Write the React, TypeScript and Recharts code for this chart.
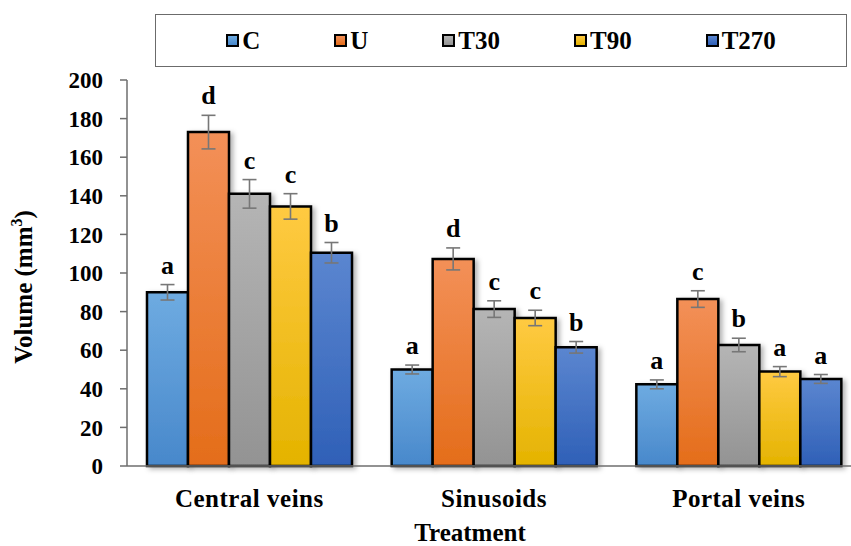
import { BarChart, Bar, XAxis, YAxis, ErrorBar, LabelList } from "recharts";

const categories = ["Central veins", "Sinusoids", "Portal veins"];
const seriesKeys = ["C", "U", "T30", "T90", "T270"];

const cValues = [90, 50, 42.3];
const uValues = [173, 107.3, 86.5];
const t30Values = [141, 81.3, 62.7];
const t90Values = [134.5, 76.7, 48.9];
const t270Values = [110.5, 61.5, 45.1];

const cErrors = [4, 2.3, 2.3];
const uErrors = [8.7, 5.7, 4.3];
const t30Errors = [7.4, 4.3, 3.5];
const t90Errors = [6.6, 4, 2.6];
const t270Errors = [5.3, 3, 2.3];

const cLetters = ["a", "a", "a"];
const uLetters = ["d", "d", "c"];
const t30Letters = ["c", "c", "b"];
const t90Letters = ["c", "c", "a"];
const t270Letters = ["b", "b", "a"];

const yTicks = [0, 20, 40, 60, 80, 100, 120, 140, 160, 180, 200];

const values = [cValues, uValues, t30Values, t90Values, t270Values];
const errors = [cErrors, uErrors, t30Errors, t90Errors, t270Errors];
const letters = [cLetters, uLetters, t30Letters, t90Letters, t270Letters];

const gradients: Record<string, [string, string]> = {
  C: ["#6eabe1", "#4888cb"],
  U: ["#f39058", "#e46d1a"],
  T30: ["#b5b5b5", "#939393"],
  T90: ["#ffca42", "#e4b300"],
  T270: ["#5b86d0", "#2f60b7"],
};

const data = categories.map((name, i) => {
  const row: Record<string, string | number> = { name };
  seriesKeys.forEach((k, s) => {
    row[k] = values[s][i];
    row[k + "_err"] = errors[s][i];
    row[k + "_sig"] = letters[s][i];
  });
  return row;
});

const FONT = "Liberation Serif, Times New Roman, Tinos, Nimbus Roman, DejaVu Serif, serif";
const WIDTH = 870;
const HEIGHT = 546;
const MARGIN = { top: 80, right: 9, bottom: 0, left: 27 };
const X_AXIS_H = 80;
const PLOT_H = HEIGHT - MARGIN.top - MARGIN.bottom - X_AXIS_H;
const Y_MAX = 200;

function sigLabel(seriesIdx: number) {
  return (props: any) => {
    const { x, y, width, index } = props;
    const err = errors[seriesIdx][index] ?? 0;
    const top = Number(y) - (err * PLOT_H) / Y_MAX;
    return (
      <text
        x={Number(x) + Number(width) / 2}
        y={top - 11}
        textAnchor="middle"
        fontFamily={FONT}
        fontWeight="bold"
        fontSize={26}
        fill="#000"
      >
        {letters[seriesIdx][index]}
      </text>
    );
  };
}

function CategoryTick(props: any) {
  const { x, y, payload } = props;
  return (
    <text x={x} y={y} dy={41} textAnchor="middle" fontFamily={FONT} fontWeight="bold" fontSize={25} letterSpacing={0.5} fill="#000">
      {payload.value}
    </text>
  );
}

function Legendbox() {
  return (
    <div
      style={{
        position: "absolute",
        left: 155,
        top: 14,
        width: 690,
        height: 51,
        border: "1.5px solid #6b6b6b",
        display: "flex",
        alignItems: "center",
        justifyContent: "center",
        columnGap: 74,
        fontFamily: FONT,
        fontWeight: "bold",
        fontSize: 25,
        color: "#000",
      }}
    >
      {seriesKeys.map((k) => (
        <div key={k} style={{ display: "flex", alignItems: "center", gap: 3 }}>
          <span
            style={{
              width: 9,
              height: 9,
              border: "2px solid #000",
              background: `linear-gradient(${gradients[k][0]}, ${gradients[k][1]})`,
              display: "inline-block",
            }}
          />
          <span>{k}</span>
        </div>
      ))}
    </div>
  );
}

export default function App() {
  return (
    <div style={{ position: "absolute", left: 0, top: 0, width: 851, height: 546, overflow: "hidden", background: "#fff" }}>
      <BarChart width={WIDTH} height={HEIGHT} data={data} margin={MARGIN} barCategoryGap={20} barGap={0}>
        <defs>
          {seriesKeys.map((k) => (
            <linearGradient key={k} id={`grad-${k}`} x1="0" y1="0" x2="0" y2="1">
              <stop offset="0%" stopColor={gradients[k][0]} />
              <stop offset="100%" stopColor={gradients[k][1]} />
            </linearGradient>
          ))}
          <filter id="barShadow" x="-20%" y="-10%" width="150%" height="130%">
            <feDropShadow dx={3} dy={2} stdDeviation={2.5} floodColor="#000" floodOpacity={0.3} />
          </filter>
        </defs>
        <XAxis
          dataKey="name"
          height={X_AXIS_H}
          axisLine={{ stroke: "#6e6e6e", strokeWidth: 1.5 }}
          tickLine={false}
          tickSize={0}
          tickMargin={0}
          tick={<CategoryTick />}
          label={() => (
            <text x={470} y={541} textAnchor="middle" fontFamily={FONT} fontWeight="bold" fontSize={25} fill="#000">
              Treatment
            </text>
          )}
        />
        <YAxis
          domain={[0, Y_MAX]}
          ticks={yTicks}
          width={100}
          interval={0}
          axisLine={{ stroke: "#6e6e6e", strokeWidth: 1.5 }}
          tickLine={{ stroke: "#6e6e6e", strokeWidth: 1.5 }}
          tickSize={7}
          tickMargin={17}
          tick={{ fontFamily: FONT, fontWeight: "bold", fontSize: 23, fill: "#000" }}
          label={() => (
            <text
              x={32}
              y={287}
              transform="rotate(-90, 32, 287)"
              textAnchor="middle"
              fontFamily={FONT}
              fontWeight="bold"
              fontSize={25}
              fill="#000"
            >
              Volume (mm
              <tspan fontSize={16} dy={-10}>3</tspan>
              <tspan dy={10}>)</tspan>
            </text>
          )}
        />
        {seriesKeys.map((k, s) => (
          <Bar
            key={k}
            dataKey={k}
            fill={`url(#grad-${k})`}
            stroke="#000"
            strokeWidth={2.5}
            filter="url(#barShadow)"
            isAnimationActive={false}
          >
            <ErrorBar dataKey={`${k}_err`} direction="y" width={7} stroke="#777" strokeWidth={1.6} />
            <LabelList dataKey={`${k}_sig`} content={sigLabel(s)} />
          </Bar>
        ))}
      </BarChart>
      <Legendbox />
    </div>
  );
}
